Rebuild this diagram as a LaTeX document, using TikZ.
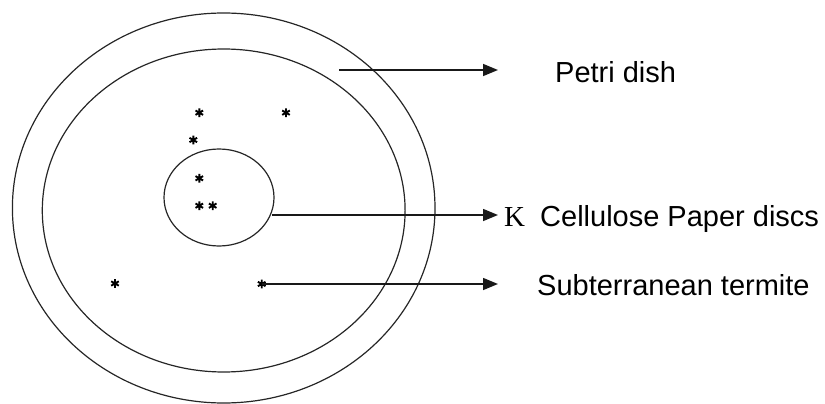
\documentclass[tikz,border=0pt]{standalone}
\usepackage{fontspec}
\setmainfont{Liberation Sans}
\newfontfamily\serifK{Liberation Serif}
\usetikzlibrary{shapes.geometric,arrows.meta}
\tikzset{
  ring/.style={draw=black!85, line width=1.2pt, ellipse, inner sep=0pt, fill=none},
  arr/.style={draw=black!90, line width=1.5pt, -{Triangle[length=15pt,width=12pt]}},
  lbl/.style={anchor=base west, inner sep=0pt, font=\fontsize{29}{34}\selectfont},
  termite/.pic={
    \draw[line width=1.9pt, black] (0,-4.4) -- (0,4.4)
      (-3.8,-2.2) -- (3.8,2.2) (-3.8,2.2) -- (3.8,-2.2);
  }
}
\begin{document}
\begin{tikzpicture}[x=1pt,y=-1pt]
\useasboundingbox (0,0) rectangle (825,404);
% dish rings
\node[ring, minimum width=422.6pt, minimum height=390pt] (outer) at (223.7,208) {};
\node[ring, minimum width=362.8pt, minimum height=323pt] (inner) at (223.7,210.5) {};
\node[ring, minimum width=110pt, minimum height=97pt] (disc) at (219,197.5) {};
% termites
\coordinate (t1) at (199.3,112.7);
\coordinate (t2) at (286,112.7);
\coordinate (t3) at (193.3,140);
\coordinate (t4) at (199.3,178.3);
\coordinate (t5) at (199.3,205.7);
\coordinate (t6) at (212.7,205.7);
\coordinate (t7) at (115,283.5);
\coordinate (t8) at (261.7,284);
\foreach \t in {t1,t2,t3,t4,t5,t6,t7,t8} \pic at (\t) {termite};
% arrows
\coordinate (pstart) at (339,70);
\coordinate (ptip) at (498,70);
\coordinate (cstart) at (272,215);
\coordinate (ctip) at (498,215);
\coordinate (stip) at (498,284);
\draw[arr] (pstart) -- (ptip);
\draw[arr] (cstart) -- (ctip);
\draw[arr] (t8) -- (stip);
% labels
\node[lbl] (petri) at (555,82) {Petri dish};
\node[anchor=base west, inner sep=0pt, font=\serifK\fontsize{29}{34}\selectfont] (k) at (504,226) {K};
\node[lbl] (cell) at (540,226) {Cellulose Paper discs};
\node[lbl] (sub) at (537,295) {Subterranean termite};
\end{tikzpicture}
\end{document}
